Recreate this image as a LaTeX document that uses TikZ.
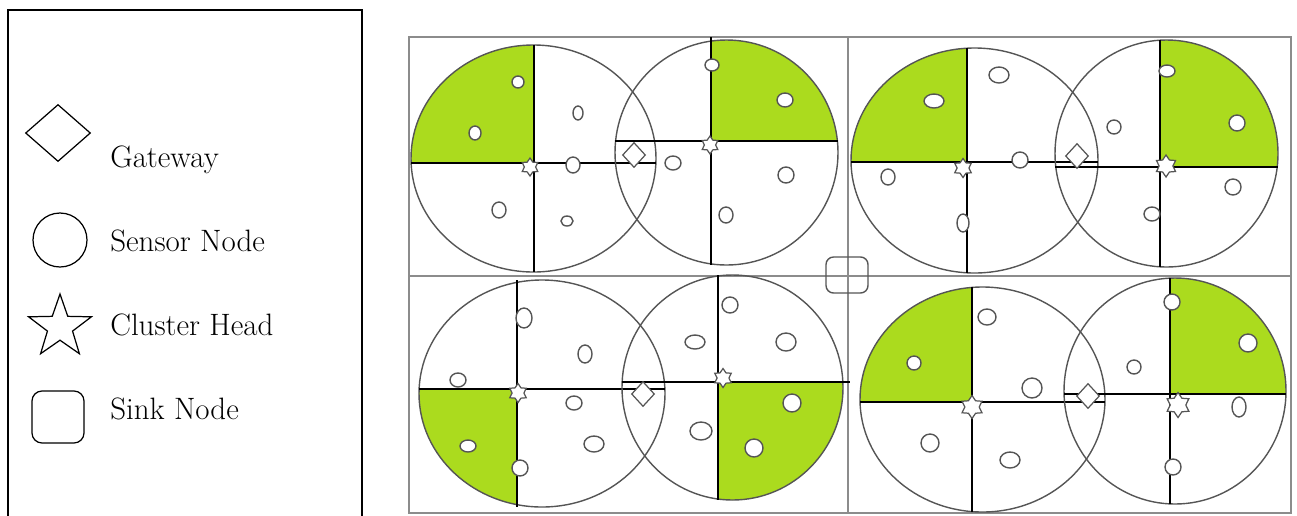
\documentclass[tikz,border=0pt]{standalone}
\usepackage{fontspec}
\usetikzlibrary{shapes.geometric,positioning}
\definecolor{leafgreen}{HTML}{ABDB1E}
\definecolor{ringgray}{HTML}{555555}
\definecolor{framegray}{HTML}{8C8C8C}

\tikzset{
  keytext/.style={anchor=base west,inner sep=0pt,font=\rmfamily\fontsize{17.6}{20}\selectfont},
  ring/.style={draw=ringgray,line width=0.8pt},
  splitline/.style={draw=black,line width=0.9pt},
  sensor/.style={draw=ringgray,fill=white,line width=0.8pt},
  headmark/.style={star,star points=6,star point ratio=1.6,draw=ringgray,fill=white,
    inner sep=0pt,minimum size=0.38cm,line width=0.7pt},
  gatemark/.style={diamond,draw=ringgray,fill=white,inner sep=0pt,
    minimum width=0.46cm,minimum height=0.5cm,line width=0.7pt},
}

\begin{document}
\begin{tikzpicture}[x=0.02cm,y=-0.02cm]
    \useasboundingbox (0,0) rectangle (1297,515);
    % legend
    \draw[line width=0.9pt] (8,520) -- (8,10) -- (362,10) -- (362,520);
    \node[diamond,draw,line width=0.7pt,inner sep=0pt,minimum width=1.3cm,minimum height=1.14cm] (gwkey) at (58,133) {};
    \node[circle,draw,line width=0.7pt,inner sep=0pt,minimum size=1.08cm] (sensorkey) at (60,240) {};
    \node[star,star points=5,star point ratio=2.5,draw,line width=0.7pt,inner sep=0pt,minimum size=1.32cm] (headkey) at (60,327) {};
    \node[rectangle,rounded corners=0.2cm,draw,line width=0.7pt,minimum size=1.04cm] (sinkkey) at (58,417) {};
    \node[keytext] (gwtext) at (110,167) {Gateway};
    \node[keytext] (sensortext) at (110,251) {Sensor Node};
    \node[keytext] (headtext) at (110,335) {Cluster Head};
    \node[keytext] (sinktext) at (110,419) {Sink Node};

    % field of four regions
    \draw[framegray,line width=0.9pt] (409,37) rectangle (1291,513);
    \draw[framegray,line width=0.9pt] (848,37) -- (848,513);
    \draw[framegray,line width=0.9pt] (409,276) -- (1291,276);

    % clusters: centre, radii, split point, corner of the green quarter
    \foreach \cx/\cy/\rx/\ry/\vx/\hy/\gx/\gy in {
        533.5/158.5/122.5/113.5/534/163/405/40,
        726.5/152.5/111.5/112.5/711/141/845/35,
        974.5/160.5/123.5/112.5/967/162/845/40,
        1166.5/153.5/111.5/113.5/1160/167/1290/35,
        542/393.5/123/113.5/517/389/415/510,
        732.5/387.5/110.5/112.5/718/382/845/505,
        982.5/399.5/122.5/112.5/972/402/855/285,
        1175/391/111/113/1170/394/1290/275}
    {
        \begin{scope}
            \clip (\cx,\cy) ellipse [x radius=\rx, y radius=\ry];
            \fill[leafgreen] (\vx,\hy) rectangle (\gx,\gy);
        \end{scope}
        \draw[ring] (\cx,\cy) ellipse [x radius=\rx, y radius=\ry];
        \draw[splitline] (\cx-\rx,\hy) -- (\cx+\rx,\hy);
        \draw[splitline] (\vx,\cy-\ry) -- (\vx,\cy+\ry);
    }
    \draw[splitline] (711,37) -- (711,42);
    \draw[splitline] (840,382) -- (850,382);

    % sensor nodes
    \foreach \x/\y/\a/\b in {
        518/82/6/6, 475/133/6/7, 578/113/5/7, 573/165/7/8, 499/210/7/8, 567/221/6/5,
        712/65/7/6, 785/100/8/7, 673/163/8/7, 786/175/8/8, 726/215/7/8,
        999/75/10/8, 934/101/10/7, 1020/160/8/8, 888/177/7/8, 963/223/6/9,
        1167/71/8/6, 1237/123/8/8, 1114/127/7/7, 1233/187/8/8, 1152/214/8/7,
        524/318/8/10, 585/354/7/9, 458/380/8/7, 574/403/8/7, 468/446/8/6, 594/444/10/8, 520/468/8/8,
        730/305/8/8, 695/342/10/7, 786/342/10/9, 701/431/11/9, 792/403/9/9, 754/448/9/9,
        987/317/9/8, 914/363/7/7, 1032/388/10/10, 930/443/9/9, 1010/460/10/8,
        1172/302/8/8, 1248/343/9/9, 1134/367/7/7, 1239/407/7/10, 1173/467/8/8}
        \draw[sensor] (\x,\y) ellipse [x radius=\a, y radius=\b];

    % cluster heads
    \foreach \x/\y/\s [count=\i] in {530/167/0.36, 710/145/0.36, 963/168/0.38, 1166/166/0.44,
        518/393/0.38, 723/378/0.38, 972/407/0.46, 1178/405/0.5}
        \node[headmark,minimum size=\s cm] (head\i) at (\x,\y) {};

    % gateways
    \node[gatemark] (gateA) at (634,155) {};
    \node[gatemark] (gateB) at (1077,156) {};
    \node[gatemark] (gateC) at (643,394) {};
    \node[gatemark] (gateD) at (1088,396) {};

    % sink
    \node[rectangle,rounded corners=0.15cm,draw=ringgray,line width=0.8pt,
        minimum width=0.84cm,minimum height=0.72cm] (sink) at (847,275) {};
\end{tikzpicture}
\end{document}
